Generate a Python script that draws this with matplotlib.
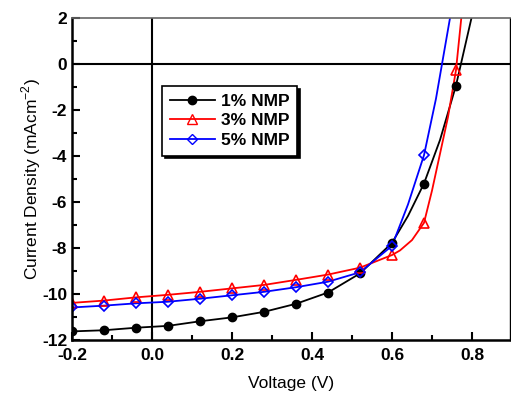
import numpy as np
import matplotlib
matplotlib.use('Agg')
import matplotlib.pyplot as plt
from matplotlib.ticker import MultipleLocator

plt.rcParams['font.family'] = ['Liberation Sans', 'DejaVu Sans']
plt.rcParams['axes.unicode_minus'] = False

# measured points (markers)
v_pts = [-0.2, -0.12, -0.04, 0.04, 0.12, 0.2, 0.28, 0.36, 0.44, 0.52, 0.6, 0.68, 0.76]
j_1 = [-11.62, -11.57, -11.46, -11.38, -11.18, -11.01, -10.77, -10.42, -9.93, -9.1, -7.77, -5.19, -0.93]
j_3 = [-10.38, -10.28, -10.14, -10.03, -9.9, -9.75, -9.6, -9.38, -9.15, -8.85, -8.3, -6.9, -0.26]
j_5 = [-10.58, -10.5, -10.4, -10.33, -10.2, -10.05, -9.9, -9.7, -9.46, -9.05, -7.9, -3.96]

# curve traces (steep part)
v_c1 = [-0.2, -0.12, -0.04, 0.04, 0.12, 0.2, 0.28, 0.36, 0.44, 0.52, 0.6, 0.64, 0.68, 0.72, 0.76, 0.8]
j_c1 = [-11.62, -11.57, -11.46, -11.38, -11.18, -11.01, -10.77, -10.42, -9.93, -9.1, -7.77, -6.6, -5.19, -3.3, -0.93, 2.1]
v_c3 = [-0.2, -0.12, -0.04, 0.04, 0.12, 0.2, 0.28, 0.36, 0.44, 0.52, 0.6, 0.62, 0.65, 0.68, 0.70, 0.72, 0.74, 0.76, 0.775]
j_c3 = [-10.38, -10.28, -10.14, -10.03, -9.9, -9.75, -9.6, -9.38, -9.15, -8.85, -8.3, -8.1, -7.65, -6.9, -5.5, -3.9, -2.3, -0.26, 2.3]
v_c5 = [-0.2, -0.12, -0.04, 0.04, 0.12, 0.2, 0.28, 0.36, 0.44, 0.52, 0.6, 0.64, 0.68, 0.71, 0.745, 0.76]
j_c5 = [-10.58, -10.5, -10.4, -10.33, -10.2, -10.05, -9.9, -9.7, -9.46, -9.05, -7.9, -6.1, -3.96, -1.5, 2.0, 3.5]

labels = ['1% NMP', '3% NMP', '5% NMP']

fig = plt.figure(figsize=(5.11, 4.03), dpi=100)
ax = fig.add_axes([0.141, 0.156, 0.857, 0.799])

ax.axhline(0, color='k', lw=1.5, zorder=1)
ax.axvline(0, color='k', lw=1.5, zorder=1)

ax.plot(v_c1, j_c1, '-', color='k', lw=1.3)
ax.plot(v_c3, j_c3, '-', color='r', lw=1.3)
ax.plot(v_c5, j_c5, '-', color='b', lw=1.3)
ax.plot(v_pts, j_1, 'o', color='k', ms=6)
ax.plot(v_pts, j_3, '^', color='r', mfc='none', mew=1.2, ms=7)
ax.plot(v_pts[:len(j_5)], j_5, 'D', color='b', mfc='none', mew=1.2, ms=5.5)

# legend proxies
h1, = ax.plot([], [], '-o', color='k', lw=1.3, ms=6)
h3, = ax.plot([], [], '-^', color='r', lw=1.3, mfc='none', ms=7)
h5, = ax.plot([], [], '-D', color='b', lw=1.3, mfc='none', ms=5.5)
leg = ax.legend([h1, h3, h5], labels, loc='upper left', bbox_to_anchor=(0.205, 0.79),
                prop={'weight': 'bold', 'size': 12.5}, fancybox=False,
                shadow={'color': 'k', 'alpha': 1}, framealpha=1, edgecolor='k',
                handlelength=2.6, labelspacing=0.25, borderpad=0.45, handletextpad=0.35,
                borderaxespad=0)
leg.get_frame().set_linewidth(1.2)

ax.set_xlim(-0.2, 0.895)
ax.set_ylim(-12, 2)
ax.xaxis.set_major_locator(MultipleLocator(0.2))
ax.xaxis.set_minor_locator(MultipleLocator(0.1))
ax.yaxis.set_major_locator(MultipleLocator(2))
ax.yaxis.set_minor_locator(MultipleLocator(1))
ax.set_xticks([-0.2, 0.0, 0.2, 0.4, 0.6, 0.8])
ax.set_xticklabels(['-0.2', '0.0', '0.2', '0.4', '0.6', '0.8'])
ax.tick_params(which='both', direction='in', width=1.5, top=False, right=False)
ax.tick_params(which='major', length=6, labelsize=12.5)
ax.tick_params(which='minor', length=3.5)
ax.tick_params(axis='x', pad=6)
for lab in ax.get_xticklabels() + ax.get_yticklabels():
    lab.set_fontweight('bold')

for s in ['left', 'bottom']:
    ax.spines[s].set_linewidth(1.8)
ax.spines['top'].set_linewidth(1.2)
ax.spines['top'].set_color('0.4')
ax.spines['right'].set_linewidth(1.0)

ax.set_xlabel('Voltage (V)', fontsize=12.5, labelpad=9)
ax.set_ylabel(r'Current Density (mAcm$^{\mathregular{-2}}$)', fontsize=12.5, labelpad=-1)

plt.savefig('out.png', dpi=100)
